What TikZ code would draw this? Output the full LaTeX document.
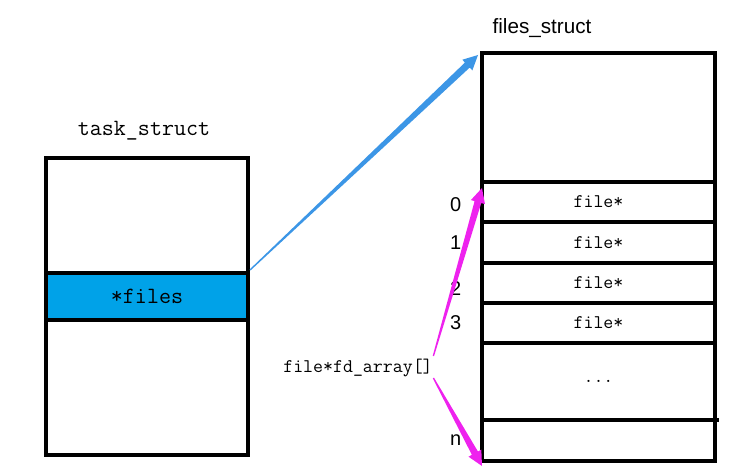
\documentclass[tikz,border=0pt]{standalone}
\usepackage{fontspec}
\setsansfont{Liberation Sans}
\usetikzlibrary{calc}
\usetikzlibrary{positioning}
\definecolor{rowblue}{RGB}{0,162,232}
\definecolor{arrowblue}{RGB}{60,150,230}
\definecolor{arrowpink}{RGB}{238,34,238}

\begin{document}
\begin{tikzpicture}[x=0.75pt,y=-0.75pt,
	box/.style={draw,line width=3pt,minimum width=#1,inner sep=0pt,outer sep=0pt},
	cell/.style={draw,line width=3pt,minimum width=174.75pt,minimum height=#1,inner sep=0pt,outer sep=0pt,font=\ttfamily\fontsize{14.5}{14.5}\selectfont},
	idx/.style={font=\sffamily\fontsize{15}{15}\selectfont},
	title/.style={font=\fontsize{15}{15}\selectfont}]
	\useasboundingbox (0,0) rectangle (743,474);
	% task_struct
	\node[box=151.5pt,minimum height=222.75pt] (ts) at (147,306.5) {};
	\node[box=151.5pt,minimum height=35.25pt,fill=rowblue,font=\ttfamily\fontsize{17.5}{17.5}\selectfont] (files) at (147,296.5) {*files};
	\node[title,font=\ttfamily\fontsize{17.5}{17.5}\selectfont] (tsl) at (144,131) {task\_struct};
	% files_struct
	\node[box=174.75pt,minimum height=306pt] (fs) at (598.5,257) {};
	\node[title,font=\sffamily\fontsize{15.5}{15.5}\selectfont] (fsl) at (542,28) {files\_struct};
	\node[cell=30pt] (r0) at (598.5,202) {file*};
	\node[cell=30.75pt,below=0pt of r0] (r1) {file*};
	\node[cell=30pt,below=0pt of r1] (r2) {file*};
	\node[cell=30pt,below=0pt of r2] (r3) {file*};
	\node[cell=57.75pt,below=0pt of r3] (rd) {...};
	\node[cell=30.75pt,below=0pt of rd] (rn) {};
	\draw[line width=3pt] (rn.north east) -- ++(4,0);
	\node[idx,left=12pt of r0,yshift=-2pt] (i0) {0};
	\node[idx,left=12pt of r1] (i1) {1};
	\node[idx,left=12pt of r2,yshift=-4pt] (i2) {2};
	\node[idx,left=12pt of r3] (i3) {3};
	\node[idx,left=12pt of rn] (in) {n};
	\node[font=\ttfamily\fontsize{14.5}{14.5}\selectfont] (fd) at (358,368) {file*fd\_array[]};
	% arrows
	\coordinate (s1) at ([shift={(2,-3)}]files.north east);
	\coordinate (t1) at ([shift={(-4,2)}]fs.north west);
	\coordinate (s2) at ([shift={(-4,-12)}]fd.east);
	\coordinate (t2) at ([shift={(0,6)}]r0.north west);
	\coordinate (s3) at ([shift={(-4,10)}]fd.east);
	\coordinate (t3) at ([shift={(0,5)}]rn.south west);
	\foreach \s/\t/\col in {s1/t1/arrowblue,s2/t2/arrowpink,s3/t3/arrowpink}{
		\coordinate (c) at ($(\t)!11pt!(\s)$);
		\fill[\col] ($(\s)!0.5pt!90:(\t)$) -- ($(c)!2.6pt!90:(\t)$) -- ($(c)!5.5pt!90:(\t)$) -- (\t)
			-- ($(c)!5.5pt!-90:(\t)$) -- ($(c)!2.6pt!-90:(\t)$) -- ($(\s)!0.5pt!-90:(\t)$) -- cycle;
	}
\end{tikzpicture}
\end{document}
